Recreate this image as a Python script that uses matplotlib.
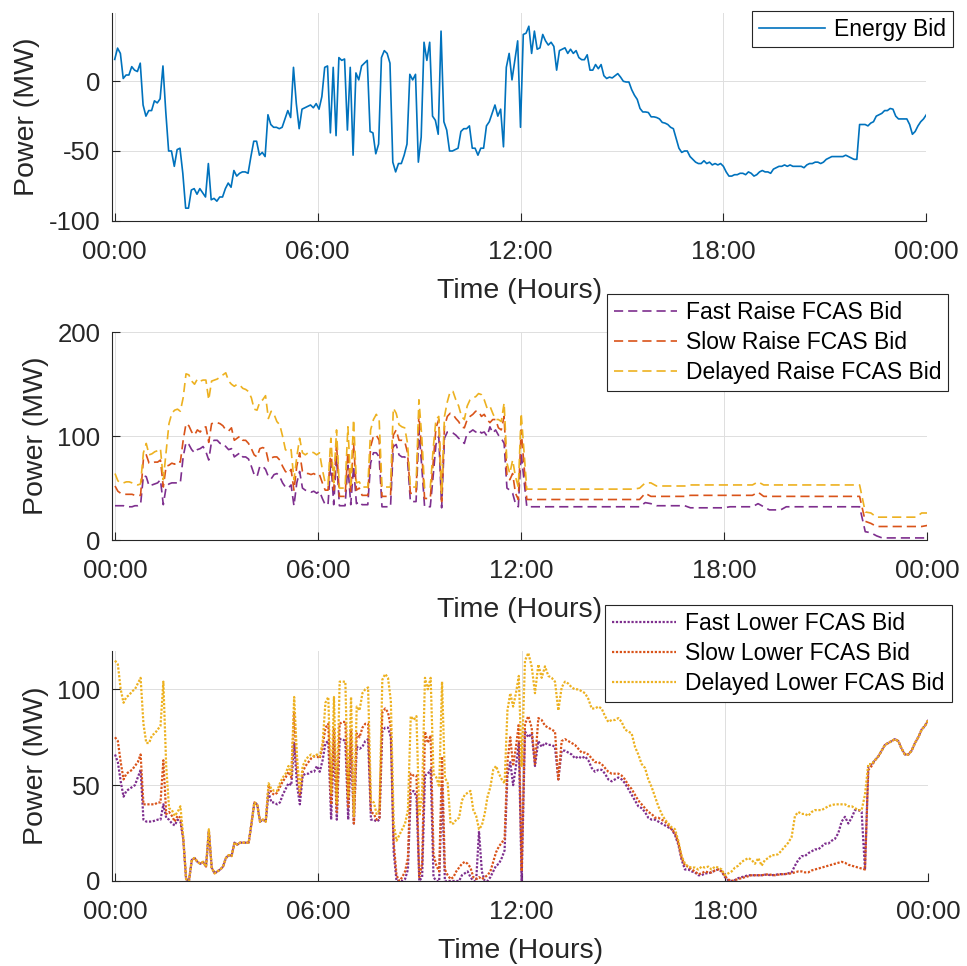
import numpy as np
import matplotlib
matplotlib.use('Agg')
import matplotlib.pyplot as plt

plt.rcParams['font.family'] = ['Liberation Sans', 'DejaVu Sans']
plt.rcParams['axes.unicode_minus'] = False

# --- data (MW), morning half 00:00-12:00 and afternoon half 12:00-24:00 ---
energy_am = [15.7, 23.8, 20, 2, 4.5, 4.5, 10.5, 8, 7, 13,
             -17, -25, -21, -21, -14, -15.5, -12.6, 11, -22, -50,
             -50, -61, -49, -48, -66, -91, -91, -78, -77, -81,
             -77, -80, -83, -59, -85, -84, -86, -83, -83, -77,
             -73, -76, -64, -68, -66, -65, -65, -66, -54, -43,
             -43, -53, -51, -54, -24, -31, -33, -33, -34, -33,
             -27, -21, -26, 10, -16, -34, -20, -19, -18, -17,
             -19, -16, -20, -11, 10, 11, -37, 10, -39, 17,
             15, 16, -35, 10, -53, 6, 1, 11, 13, 15,
             -36, -37, -52, -45, 17, 22, 20, 13, -58, -65,
             -59, -59, -53, -45, 5, 1, 5, -58, -40, 28,
             15, 28, -25, -28, -38, 36, -29, -35, -50, -50,
             -49, -48, -36, -34, -34, -32, -48, -48, -53, -48,
             -48, -32, -29, -23, -17, -25, -20, -47, 10, 20,
             1, 15, 29, -33]
energy_pm = [33.6, 34.5, 39.5, 20, 36, 23, 24, 33.6, 29, 26,
             28, 25, 8, 22, 23, 24, 20, 23, 20, 22,
             17, 15.5, 15.5, 19, 8, 8, 12, 9, 12, 4,
             2, 3, 2.4, 4, 5.5, 3, 0, -0.5, -0.5, -6,
             -10, -13, -19.5, -22, -22, -22.4, -25.5, -25.5, -26, -27,
             -29.5, -30, -31, -33, -34, -41, -48, -51, -50, -50,
             -54, -56, -58, -59, -59, -57, -59, -58, -60, -59,
             -60, -59, -61, -65, -68, -68, -67, -67, -66, -66,
             -67, -65, -66, -68, -67, -65, -64, -65, -65, -66,
             -63, -62, -61, -61, -60, -61, -60, -61, -61, -61,
             -61, -62, -60, -59, -59, -58, -58, -59, -58, -56,
             -55, -54, -54, -54, -54, -54, -53, -54, -55, -56,
             -56, -31, -31, -31, -32, -30, -29, -25, -24, -23,
             -21, -21, -19.5, -20, -25, -27, -27, -27, -27, -31,
             -38, -36, -32, -29, -27, -24]

fast_raise_am = [33, 33, 33, 33, 32, 32, 32, 33, 33, 34,
                 62, 61, 52, 53, 54, 55, 58, 34, 51, 54,
                 55, 55, 55, 55, 80, 94, 92, 87, 84, 87,
                 88, 90, 85, 77, 95, 96, 96, 93, 93, 90,
                 87, 88, 80, 82, 84, 80, 80, 78, 71, 63,
                 61, 71, 71, 68, 61, 59, 63, 64, 61, 55,
                 51, 50, 53, 33, 55, 66, 50, 48, 47, 46,
                 47, 45, 47, 40, 34, 34, 77, 34, 80, 33,
                 33, 33, 72, 34, 71, 35, 37, 34, 34, 34,
                 74, 84, 84, 80, 32, 32, 32, 32, 90, 92,
                 82, 80, 80, 77, 37, 37, 37, 106, 71, 32,
                 32, 32, 61, 92, 100, 31, 98, 104, 104, 103,
                 101, 98, 96, 93, 103, 104, 106, 104, 106, 103,
                 104, 100, 109, 103, 106, 101, 98, 93, 50, 48,
                 45, 35, 32, 84]
slow_raise_am = [52, 47, 45, 44, 44, 44, 44, 43, 43, 43,
                 78, 82, 74, 74, 75, 75, 77, 51, 71, 72,
                 74, 73, 76, 75, 96, 112, 110, 104, 101, 106,
                 104, 108, 109, 94, 112, 113, 113, 112, 110, 106,
                 105, 108, 96, 98, 100, 96, 96, 93, 88, 82,
                 80, 88, 89, 88, 76, 79, 80, 80, 77, 71,
                 66, 64, 68, 48, 71, 84, 66, 64, 64, 63,
                 64, 62, 63, 55, 48, 48, 88, 48, 93, 42,
                 42, 42, 85, 47, 93, 48, 50, 43, 43, 43,
                 90, 100, 101, 96, 42, 42, 42, 42, 101, 106,
                 96, 96, 95, 84, 45, 45, 45, 121, 85, 40,
                 40, 40, 74, 108, 116, 37, 109, 119, 122, 121,
                 117, 114, 109, 108, 116, 119, 121, 124, 124, 119,
                 121, 116, 113, 116, 116, 108, 106, 119, 61, 58,
                 64, 45, 39, 106]
delayed_raise_am = [64, 57, 55, 55, 56, 56, 55, 54, 53, 54,
                    84, 93, 82, 83, 85, 86, 88, 58, 85, 112,
                    122, 125, 126, 124, 137, 160, 159, 153, 150, 155,
                    153, 154, 154, 135, 153, 154, 155, 157, 159, 161,
                    153, 150, 148, 150, 149, 146, 145, 143, 137, 126,
                    125, 133, 135, 139, 117, 124, 121, 114, 111, 100,
                    87, 85, 87, 58, 80, 98, 84, 82, 84, 85,
                    84, 82, 84, 68, 55, 53, 98, 55, 106, 50,
                    50, 50, 109, 53, 116, 55, 56, 51, 51, 51,
                    106, 116, 121, 116, 51, 51, 51, 51, 127, 122,
                    111, 109, 108, 93, 51, 51, 51, 135, 100, 50,
                    50, 50, 87, 116, 119, 45, 119, 133, 143, 143,
                    135, 129, 119, 116, 129, 135, 137, 138, 141, 140,
                    135, 127, 129, 122, 116, 116, 114, 132, 74, 64,
                    77, 61, 51, 122]

# afternoon raise bids, 10 minute steps from 12:10
fast_raise_pm = [32, 32, 32, 32, 32, 32, 32, 32, 32, 32, 32, 32, 32, 32, 32, 32, 32, 32, 32, 32, 32,
                 36, 35, 33, 33, 33, 33, 33, 33, 31, 31, 31, 31, 31, 31, 31, 32, 32, 32, 32, 32,
                 35, 32, 29, 29, 29, 32, 32, 32, 32, 32, 32, 32, 32, 32, 32, 32, 32, 32, 32,
                 8, 7, 4, 2, 2, 2, 2, 2, 2, 2, 2, 2]
slow_raise_pm = [39, 39, 39, 39, 39, 39, 39, 39, 39, 39, 39, 39, 39, 39, 39, 39, 39, 39, 39, 39, 39,
                 45, 42, 42, 42, 42, 42, 42, 42, 43, 43, 43, 43, 43, 43, 43, 43, 43, 43, 43, 43,
                 46, 42, 42, 42, 42, 42, 42, 42, 42, 42, 42, 42, 42, 42, 42, 42, 42, 42, 42,
                 18, 16, 13, 13, 13, 13, 13, 13, 13, 13, 13, 14]
delayed_raise_pm = [49, 49, 49, 49, 49, 49, 49, 49, 49, 49, 49, 49, 49, 49, 49, 49, 49, 49, 49, 49, 50,
                    55, 55, 52, 52, 52, 52, 52, 52, 53, 53, 53, 53, 53, 53, 53, 53, 53, 53, 53, 53,
                    56, 53, 53, 53, 53, 53, 53, 53, 53, 53, 53, 53, 53, 53, 53, 53, 53, 53, 53,
                    27, 26, 22, 22, 22, 22, 22, 22, 22, 22, 26, 26]

fast_lower_am = [66, 62, 52, 44, 47, 48, 49, 50, 54, 58,
                 32, 31, 31, 31, 31.5, 32, 32, 40, 33, 32,
                 30, 29, 32, 31, 22, 1, 0, 11, 12, 10,
                 9, 10, 7.5, 26, 7, 4, 5, 6, 7.5, 12,
                 13.5, 13, 20, 19, 20, 20, 20, 20, 30, 41,
                 40, 31, 32, 31, 46, 41, 41, 40, 41, 45,
                 48, 51, 50, 72, 50, 40, 55, 56, 56, 57,
                 57, 60, 57, 63, 72, 73, 32, 72, 32, 74,
                 74, 73, 32, 72, 30, 70, 69, 70, 73, 74,
                 32, 32, 31, 32, 78, 80, 80, 75, 15, 0,
                 0, 0, 1, 6, 46, 47, 44, 0, 2, 55,
                 56, 58, 2, 0, 0, 50, 0, 0, 0, 0,
                 0, 0, 3, 4, 5, 2, 0, 0, 26, 5,
                 0, 0, 2, 5, 8, 9, 12, 16, 55, 62,
                 50, 60, 72, 0]
slow_lower_am = [75, 73, 62, 53, 56, 57, 58, 60, 62, 66,
                 40, 40, 40, 40, 40, 41, 41, 63, 35, 36,
                 34, 31, 34, 33, 22, 1, 0, 11, 12, 10,
                 9, 10, 7.5, 26, 7, 4, 5, 6, 7.5, 12,
                 13.5, 13, 20, 19, 20, 20, 20, 20, 30, 41,
                 40, 31, 32, 31, 50, 46, 45, 46, 49, 52,
                 54, 57, 54, 88, 58, 45, 57, 60, 62, 64,
                 65, 65, 64, 70, 80, 82, 40, 80, 36, 82,
                 83, 83, 38, 79, 30, 77, 75, 80, 82, 82,
                 36, 35, 32, 33, 88, 90, 88, 80, 20, 3,
                 0, 2, 5, 12, 56, 55, 55, 2, 9, 78,
                 72, 76, 14, 8, 5, 65, 6, 3, 1, 2,
                 5, 7, 9, 10, 9, 7, 2, 1, 2, 1,
                 2, 3, 5, 10, 15, 18, 20, 22, 62, 75,
                 60, 70, 82, 5]
delayed_lower_am = [115, 113, 100, 93, 96, 97, 99, 100, 103, 106,
                    82, 72, 72, 76, 77, 79, 81, 104, 60, 38,
                    37, 34, 36, 39, 23, 1, 0, 11, 12, 10,
                    9, 10, 7.5, 27, 7, 4, 5, 6, 7.5, 12,
                    13.5, 13, 20, 19, 20, 20, 20, 20, 30, 41,
                    40, 31, 32, 31, 51, 48, 47, 47, 51, 54,
                    56, 60, 55, 96, 65, 47, 60, 63, 65, 66,
                    65, 66, 65, 72, 93, 96, 46, 96, 40, 104,
                    104, 104, 44, 96, 34, 91, 89, 98, 100, 101,
                    42, 41, 35, 37, 105, 108, 106, 94, 30, 21,
                    24, 27, 30, 37, 86, 84, 86, 34, 46, 106,
                    100, 106, 56, 54, 49, 104, 54, 51, 30, 30,
                    32, 33, 42, 45, 46, 47, 37, 34, 27, 29,
                    35, 44, 49, 58, 60, 56, 53, 51, 89, 98,
                    91, 98, 107, 60]

fast_lower_pm = [78, 75, 77, 60, 73, 70, 72, 71, 71, 70,
                 53, 68, 68, 67, 66, 64, 65, 64, 65, 63,
                 59, 57, 58, 58, 56, 53, 52, 53, 54, 53,
                 51, 48, 45, 42, 39, 38, 36, 33, 32, 32,
                 31, 30, 29, 28, 27, 24, 19, 11, 6, 6,
                 5, 4.5, 3, 3, 4, 4, 4.5, 5.5, 6, 5,
                 2, 0.3, 0, 0.5, 1.5, 2, 2.5, 3, 3, 3,
                 3, 3, 3.3, 3.2, 3, 3.2, 3.5, 3.6, 3.6, 4,
                 4.5, 8, 11, 13, 13, 14.5, 15.5, 16.5, 16.5, 18,
                 19.5, 19.5, 21, 22, 25, 31, 33.5, 30, 33, 37,
                 37, 36, 6, 60, 61, 63, 65, 68, 71, 72,
                 73, 74, 73, 69, 66, 66, 68, 72, 75, 79,
                 81, 84]
slow_lower_pm = [82, 86, 80, 61, 85, 84, 81, 80, 79, 78,
                 53, 73, 74, 73, 72, 71, 69, 67, 67, 66,
                 64, 62, 62, 61, 59, 57, 56, 56, 56, 55,
                 53, 50, 48, 45, 42, 40, 38, 36, 35, 33,
                 33, 32, 31, 29, 27, 25, 20, 12, 8, 7.5,
                 6, 5, 3.5, 4, 5, 4.5, 4.5, 5.5, 6, 5,
                 2.5, 0.8, 0, 0.5, 1, 1.5, 2, 2.5, 3, 3,
                 3, 3, 3.3, 3.5, 3.2, 3, 3.3, 3.5, 3.6, 3.8,
                 4, 4.5, 5, 5, 4.5, 4.5, 5.5, 6, 6.5, 7,
                 7.5, 8, 8.5, 9, 9.5, 10, 9.5, 8.5, 8, 7.5,
                 7, 6.5, 6, 58, 60, 63, 65, 68, 71, 72,
                 73, 74, 73, 69, 66, 66, 68, 72, 75, 79,
                 81, 84]
delayed_lower_pm = [115, 119, 112, 98, 113, 106, 112, 107, 106, 104,
                    89, 101, 104, 103, 101, 100, 100, 99, 98, 95,
                    90, 90, 91, 90, 86, 83, 84, 84, 85, 83,
                    79, 78, 77, 70, 66, 61, 59, 53, 49, 44,
                    39, 35, 32, 30, 28, 27, 21, 13, 9, 7.5,
                    7, 7, 6, 7.5, 7, 7.5, 6, 7.5, 7, 6,
                    3, 4, 5, 7, 8, 10, 11, 12, 11, 9,
                    12, 8, 11, 12, 13.5, 13.5, 14, 16, 18, 20,
                    23, 34, 36, 35, 35, 34, 36, 37, 37, 37,
                    38, 39, 39.6, 40, 40, 40, 40, 39, 39, 38,
                    37, 37, 45, 61, 61, 63, 65, 68, 71, 72,
                    73, 74, 73, 69, 66, 66, 68, 72, 75, 79,
                    81, 84]

tick_hours = [0, 6, 12, 18, 24]
tick_labels = ['00:00', '06:00', '12:00', '18:00', '00:00']


def series(am, pm):
    # morning samples cover 00:00-12:00, afternoon ones follow 12:00 up to 24:00
    t_am = np.linspace(0, 12, len(am))
    t_pm = np.linspace(12, 24, len(pm) + 1)[1:]
    return np.concatenate([t_am, t_pm]), np.array(am + pm, dtype=float)


W, H = 967, 966
fig = plt.figure(figsize=(W / 100, H / 100), dpi=100)


def add_axes(left, top, right, bottom):
    return fig.add_axes([left / W, 1 - bottom / H, (right - left) / W, (bottom - top) / H])


ax1 = add_axes(112, 12.7, 926.3, 220.7)
ax2 = add_axes(112.3, 332.3, 927.3, 540)
ax3 = add_axes(112.3, 651, 928.3, 881)

c_blue = '#0072BD'
c_purple = '#7E2F8E'
c_orange = '#D95319'
c_yellow = '#EDB120'
dash = (0, (5.5, 3))
dot = (0, (1, 0.75))

t, y = series(energy_am, energy_pm)
ax1.plot(t, y, color=c_blue, lw=1.2, label='Energy Bid')

t, y = series(fast_raise_am, fast_raise_pm)
ax2.plot(t, y, color=c_purple, lw=1.2, ls=dash, label='Fast Raise FCAS Bid')
t, y = series(slow_raise_am, slow_raise_pm)
ax2.plot(t, y, color=c_orange, lw=1.2, ls=dash, label='Slow Raise FCAS Bid')
t, y = series(delayed_raise_am, delayed_raise_pm)
ax2.plot(t, y, color=c_yellow, lw=1.2, ls=dash, label='Delayed Raise FCAS Bid')

t, y = series(fast_lower_am, fast_lower_pm)
ax3.plot(t, y, color=c_purple, lw=1.6, ls=dot, label='Fast Lower FCAS Bid')
t, y = series(slow_lower_am, slow_lower_pm)
ax3.plot(t, y, color=c_orange, lw=1.6, ls=dot, label='Slow Lower FCAS Bid')
t, y = series(delayed_lower_am, delayed_lower_pm)
ax3.plot(t, y, color=c_yellow, lw=1.6, ls=dot, label='Delayed Lower FCAS Bid')

ax1.set_ylim(-100, 49.2)
ax1.set_yticks([-100, -50, 0])
ax2.set_ylim(0, 200)
ax2.set_yticks([0, 100, 200])
ax3.set_ylim(0, 120)
ax3.set_yticks([0, 50, 100])

dark = '#262626'
for ax in (ax1, ax2, ax3):
    ax.set_xlim(-0.08, 24)
    ax.set_xticks(tick_hours)
    ax.set_xticklabels(tick_labels)
    ax.grid(True, color='#dedede', lw=0.7)
    ax.set_axisbelow(True)
    for side in ('top', 'right'):
        ax.spines[side].set_visible(False)
    for side in ('left', 'bottom'):
        ax.spines[side].set_color(dark)
        ax.spines[side].set_linewidth(0.8)
    ax.tick_params(direction='in', length=5.5, width=0.8, color=dark,
                   labelcolor=dark, labelsize=18.5)
    ax.tick_params(axis='x', pad=14)
    ax.tick_params(axis='y', pad=8.5)
    ax.set_xlabel('Time (Hours)', fontsize=20.5, color=dark, labelpad=10)
    ax.set_ylabel('Power (MW)', fontsize=20.5, color=dark, labelpad=6)

legend_spots = [(ax1, 953.3, 10.7, 2.9), (ax2, 948.3, 294, 2.75), (ax3, 951.7, 605, 2.8)]
for ax, x, y0, hl in legend_spots:
    leg = ax.legend(loc='upper right', bbox_to_anchor=(x / W, 1 - y0 / H),
                    bbox_transform=fig.transFigure, fontsize=16.5, frameon=True,
                    fancybox=False, framealpha=1, borderpad=0.3, borderaxespad=0,
                    labelspacing=0.3, handlelength=hl, handletextpad=0.4)
    leg.get_frame().set_edgecolor(dark)
    leg.get_frame().set_linewidth(0.8)

fig.savefig('out.png', dpi=100)
